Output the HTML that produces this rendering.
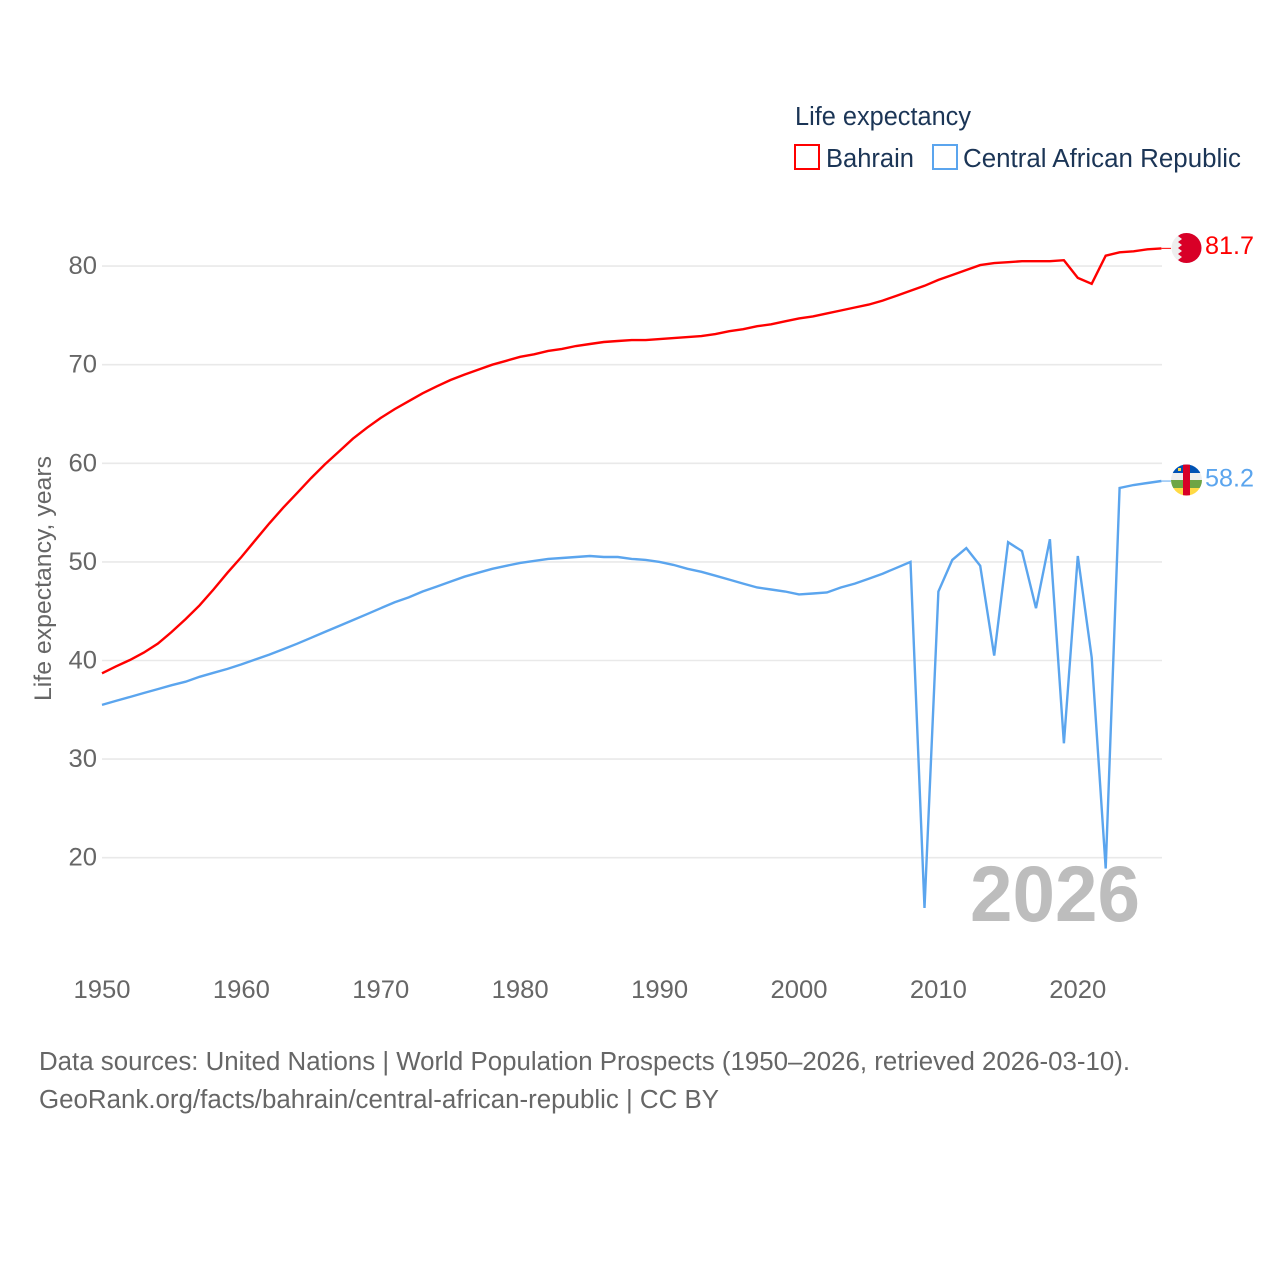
<!DOCTYPE html>
<html lang="en">
<head>
<meta charset="utf-8">
<title>Life expectancy: Bahrain and Central African Republic</title>
<style>
html,body{margin:0;padding:0;background:#fff;width:1280px;height:1280px;overflow:hidden}
svg{display:block;font-family:"Liberation Sans",sans-serif}
</style>
</head>
<body>
<svg id="chart" xmlns="http://www.w3.org/2000/svg" width="1280" height="1280" viewBox="0 0 1280 1280">
  <defs>
    <clipPath id="clip-bh"><circle cx="1186.500" cy="248" r="15"/></clipPath>
    <clipPath id="clip-cf"><circle cx="1186.500" cy="480" r="15.500"/></clipPath>
  </defs>
  <g id="grid"></g>
  <g id="yticks"></g>
  <g id="xticks"></g>
  <text transform="translate(51,701) rotate(-90)" font-size="24.500" fill="#666" textLength="245" lengthAdjust="spacingAndGlyphs">Life expectancy, years</text>
  <text x="970" y="921" font-size="79" font-weight="bold" fill="#bdbdbd" textLength="170" lengthAdjust="spacingAndGlyphs">2026</text>
  <g id="series"></g>

  <g>
    <text x="795" y="125" font-size="25.500" fill="#1b3556" textLength="176" lengthAdjust="spacingAndGlyphs">Life expectancy</text>
    <rect x="795" y="145" width="24" height="24" fill="none" stroke="#ff0000" stroke-width="2"/>
    <text x="826" y="167" font-size="25.500" fill="#1b3556" textLength="88" lengthAdjust="spacingAndGlyphs">Bahrain</text>
    <rect x="933" y="145" width="24" height="24" fill="none" stroke="#5ba5ee" stroke-width="2"/>
    <text x="963" y="167" font-size="25.500" fill="#1b3556" textLength="278" lengthAdjust="spacingAndGlyphs">Central African Republic</text>
  </g>

  <g clip-path="url(#clip-bh)">
    <rect x="1171" y="233" width="31" height="30" fill="#eeeeee"/>
    <polygon points="1182,233 1202,233 1202,263 1182,263 1178,260 1182,257 1178,254 1182,251 1178,248 1182,245 1178,242 1182,239 1178,236" fill="#d80027"/>
  </g>
  <text x="1205" y="254" font-size="25" fill="#ff0000" textLength="49" lengthAdjust="spacingAndGlyphs">81.7</text>

  <g clip-path="url(#clip-cf)">
    <rect x="1171" y="464" width="31" height="9" fill="#0052b4"/>
    <rect x="1171" y="473" width="31" height="7" fill="#eeeeee"/>
    <rect x="1171" y="480" width="31" height="8" fill="#6da544"/>
    <rect x="1171" y="488" width="31" height="8" fill="#ffda44"/>
    <rect x="1183" y="464" width="7" height="32" fill="#d80027"/>
    <rect x="1178" y="468" width="3" height="3" fill="#ffda44"/>
  </g>
  <text x="1205" y="486.500" font-size="25" fill="#5ba5ee" textLength="49" lengthAdjust="spacingAndGlyphs">58.2</text>

  <g>
    <text x="39" y="1070" font-size="25.500" fill="#666" textLength="1091" lengthAdjust="spacingAndGlyphs">Data sources: United Nations | World Population Prospects (1950–2026, retrieved 2026-03-10).</text>
    <text x="39" y="1108" font-size="25.500" fill="#666" textLength="680" lengthAdjust="spacingAndGlyphs">GeoRank.org/facts/bahrain/central-african-republic | CC BY</text>
  </g>
</svg>
<script>
const startYear = 1950;
const yTicks = [20, 30, 40, 50, 60, 70, 80];
const xTicks = [1950, 1960, 1970, 1980, 1990, 2000, 2010, 2020];
const bahrain = [38.7,39.4,40.05,40.8,41.7,42.9,44.2,45.6,47.2,48.9,50.5,52.2,53.9,55.5,57.0,58.5,59.9,61.2,62.5,63.6,64.6,65.5,66.3,67.1,67.8,68.45,69.0,69.5,70.0,70.4,70.8,71.05,71.4,71.6,71.9,72.1,72.3,72.4,72.5,72.5,72.6,72.7,72.8,72.9,73.1,73.4,73.6,73.9,74.1,74.4,74.7,74.9,75.2,75.5,75.8,76.1,76.5,77.0,77.5,78.0,78.6,79.1,79.6,80.1,80.3,80.4,80.5,80.5,80.5,80.6,78.8,78.2,81.05,81.4,81.5,81.7,81.8];
const car = [35.5,35.9,36.3,36.7,37.1,37.5,37.85,38.35,38.75,39.15,39.6,40.1,40.6,41.15,41.7,42.3,42.9,43.5,44.1,44.7,45.3,45.9,46.4,47.0,47.5,48.0,48.5,48.9,49.3,49.6,49.9,50.1,50.3,50.4,50.5,50.6,50.5,50.5,50.3,50.2,50.0,49.7,49.3,49.0,48.6,48.2,47.8,47.4,47.2,47.0,46.7,46.8,46.9,47.4,47.8,48.3,48.8,49.4,50.0,14.9,47.0,50.2,51.4,49.6,40.5,52.0,51.1,45.3,52.3,31.6,50.6,40.3,18.9,57.5,57.8,58.0,58.2];

const NS = 'http://www.w3.org/2000/svg';
function xScale(year) { return 102 + (year - startYear) * 13.94; }
function yScale(v) { return 857.7 - (v - 20) * 9.86; }
function make(tag, attrs, parent, text) {
  const el = document.createElementNS(NS, tag);
  for (const k in attrs) el.setAttribute(k, attrs[k]);
  if (text !== undefined) el.textContent = text;
  parent.appendChild(el);
  return el;
}
const gridG = document.getElementById('grid');
const yG = document.getElementById('yticks');
const xG = document.getElementById('xticks');
const seriesG = document.getElementById('series');

yTicks.forEach(function (t) {
  const line = make('line', {x1: 102, x2: 1162, y1: yScale(t), y2: yScale(t), stroke: '#e9e9e9', 'stroke-width': 1.6}, gridG);
  
  
  const label = make('text', {x: 97, y: yScale(t) + 8, 'font-size': 25, fill: '#666', 'text-anchor': 'end', textLength: 28.5, lengthAdjust: 'spacingAndGlyphs'}, yG, String(t));
  
  
});
xTicks.forEach(function (t) {
  const label = make('text', {x: xScale(t), y: 998, 'font-size': 25, fill: '#666', 'text-anchor': 'middle', textLength: 57, lengthAdjust: 'spacingAndGlyphs'}, xG, String(t));
  
  
});
function drawSeries(values, color, key) {
  const pts = values.map(function (v, i) { return xScale(startYear + i).toFixed(1) + ',' + yScale(v).toFixed(1); }).join(' ');
  const line = make('polyline', {points: pts, fill: 'none', stroke: color, 'stroke-width': 2.4, 'stroke-linejoin': 'miter'}, seriesG);
  
  
  const lastY = yScale(values[values.length - 1]);
  const leader = make('line', {x1: xScale(startYear + values.length - 1), x2: 1171, y1: lastY, y2: lastY, stroke: color, 'stroke-width': 1}, seriesG);
  
  
}
drawSeries(bahrain, '#ff0000', 'bahrain');
drawSeries(car, '#5ba5ee', 'central-african-republic');
</script>
</body>
</html>
